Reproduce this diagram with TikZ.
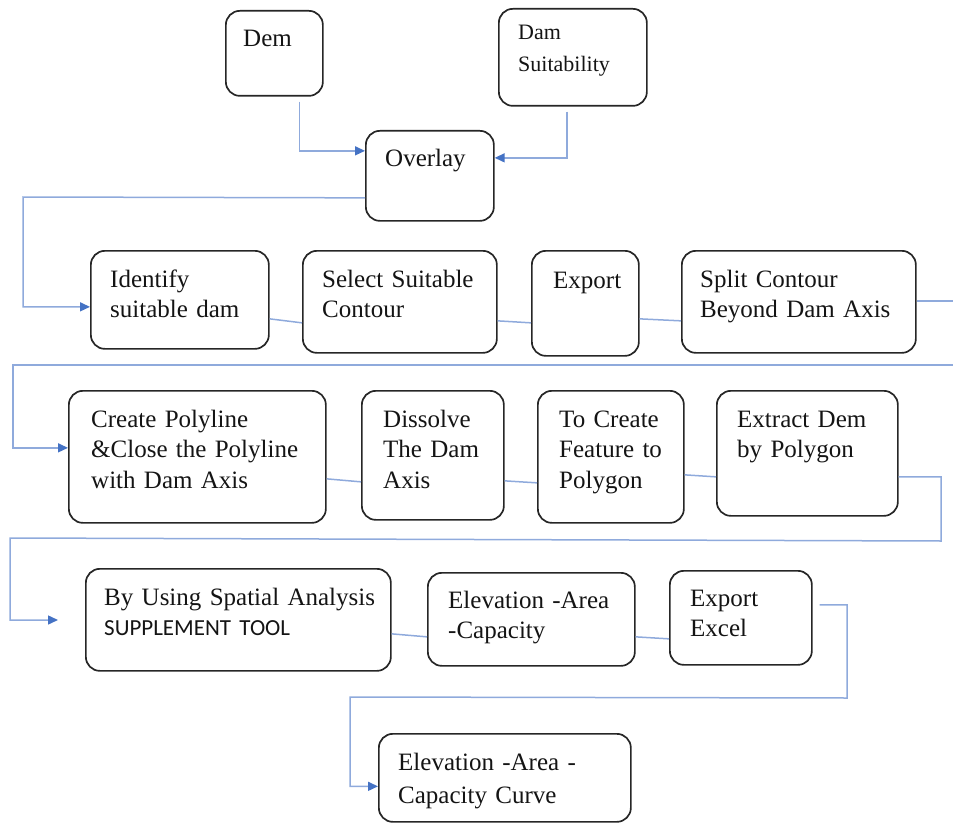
\documentclass[tikz,border=0pt]{standalone}
\usepackage{fontspec}
\setmainfont{Liberation Serif}
\newfontfamily\capsans{Carlito}
\usetikzlibrary{arrows.meta}

\definecolor{linkblue}{RGB}{143,170,220}
\definecolor{tipblue}{RGB}{68,114,196}
\definecolor{boxline}{RGB}{38,38,38}
\definecolor{ink}{RGB}{20,20,20}

\tikzset{
  stepbox/.style={draw=boxline, line width=1.7pt, rounded corners=14pt,
    inner sep=0pt, anchor=north west},
  lbl/.style={anchor=base west, inner sep=0pt, text width=300pt, align=left,
    text=ink, font=\fontsize{25}{30.5}\selectfont},
  link/.style={draw=linkblue, line width=1.5pt},
  flow/.style={link, -{Triangle[length=10pt,width=9pt,color=tipblue]}}
}

\begin{document}
\begin{tikzpicture}[x=1pt,y=-1pt]
\useasboundingbox (0,0) rectangle (953,824);

% ---- boxes ----
\node[stepbox, minimum width=97pt,  minimum height=85pt]  (dem)  at (225,10)  {};
\node[stepbox, minimum width=148pt, minimum height=97pt]  (suit) at (498,8)   {};
\node[stepbox, minimum width=128pt, minimum height=90pt]  (ovl)  at (365,130) {};

\node[stepbox, minimum width=178pt, minimum height=98pt]  (idf)  at (90,250)  {};
\node[stepbox, minimum width=194pt, minimum height=102pt] (sel)  at (302,250) {};
\node[stepbox, minimum width=107pt, minimum height=105pt] (exp)  at (531,250) {};
\node[stepbox, minimum width=234pt, minimum height=102pt] (spl)  at (681,250) {};

\node[stepbox, minimum width=257pt, minimum height=132pt] (cpl)  at (68,390)  {};
\node[stepbox, minimum width=142pt, minimum height=129pt] (dis)  at (361,390) {};
\node[stepbox, minimum width=146pt, minimum height=132pt] (tcf)  at (537,390) {};
\node[stepbox, minimum width=181pt, minimum height=125pt] (ext)  at (716,390) {};

\node[stepbox, minimum width=305pt, minimum height=102pt] (byu)  at (85,568)  {};
\node[stepbox, minimum width=207pt, minimum height=93pt]  (ele)  at (427,572) {};
\node[stepbox, minimum width=142pt, minimum height=94pt]  (xls)  at (669,570) {};

\node[stepbox, minimum width=252pt, minimum height=88pt]  (cur)  at (378,733) {};

% ---- texts ----
\node[lbl] (dem-t)  at (243,47)  {Dem};
\node[lbl, font=\fontsize{22}{32}\selectfont] (suit-t) at (518,40) {Dam\\Suitability};
\node[lbl] (ovl-t)  at (385,167) {Overlay};

\node[lbl] (idf-t)  at (110,287) {Identify\\suitable dam};
\node[lbl] (sel-t)  at (322,287) {Select Suitable\\Contour};
\node[lbl] (exp-t)  at (553,288) {Export};
\node[lbl] (spl-t)  at (700,287) {Split Contour\\Beyond Dam Axis};

\node[lbl] (cpl-t)  at (91,427)  {Create Polyline\\\&Close the Polyline\\with Dam Axis};
\node[lbl] (dis-t)  at (383,427) {Dissolve\\The Dam\\Axis};
\node[lbl] (tcf-t)  at (559,427) {To Create\\Feature to\\Polygon};
\node[lbl] (ext-t)  at (737,427) {Extract Dem\\by Polygon};

\node[lbl] (byu-t)  at (104,605) {By Using Spatial Analysis\\{\capsans\fontsize{23}{30}\selectfont SUPPLEMENT TOOL}};
\node[lbl] (ele-t)  at (448,608) {Elevation -Area\\-Capacity};
\node[lbl] (xls-t)  at (690,606) {Export\\Excel};

\node[lbl, font=\fontsize{25}{33}\selectfont] (cur-t) at (398,770) {Elevation -Area -\\Capacity Curve};

% ---- bend points of the long return lines ----
\coordinate (b1) at (23,197);
\coordinate (b2) at (960,365);
\coordinate (b3) at (13,365);
\coordinate (b4) at (941,541);
\coordinate (b5) at (10,538);
\coordinate (in5) at (58,620);
\coordinate (b6) at (847,698);
\coordinate (b7) at (350,697);

% ---- connectors ----
\draw[flow] ([shift={(25,5)}]dem.south) |- ([yshift=25pt]ovl.west);
\draw[flow] ([shift={(-6,5)}]suit.south) |- ([yshift=18pt]ovl.east);
\draw[flow] ([yshift=-22pt]ovl.west) -- (b1) |- ([yshift=-7pt]idf.west);

\draw[link] ([yshift=-19pt]idf.east) -- ([yshift=-21pt]sel.west);
\draw[link] ([yshift=-19pt]sel.east) -- ([yshift=-19.5pt]exp.west);
\draw[link] ([yshift=-15.5pt]exp.east) -- ([yshift=-19pt]spl.east -| spl.west);
\draw[link] ([yshift=1pt]spl.east) -| (b2);
\draw[flow] (b2) -- (b3) |- ([yshift=9pt]cpl.west);

\draw[link] ([yshift=-22pt]cpl.east) -- ([yshift=-26.5pt]dis.west);
\draw[link] ([yshift=-25.5pt]dis.east) -- ([yshift=-26pt]tcf.west);
\draw[link] ([yshift=-18pt]tcf.east) -- ([yshift=-23.5pt]ext.west);
\draw[flow] ([yshift=-23.5pt]ext.east) -| (b4) -- (b5) |- (in5);

\draw[link] ([yshift=-14pt]byu.east) -- ([yshift=-17.5pt]ele.west);
\draw[link] ([yshift=-17.5pt]ele.east) -- ([yshift=-21pt]xls.west);
\draw[flow] ([shift={(7,-13)}]xls.east) -| (b6) -- (b7) |- ([yshift=-8.5pt]cur.west);
\end{tikzpicture}
\end{document}
